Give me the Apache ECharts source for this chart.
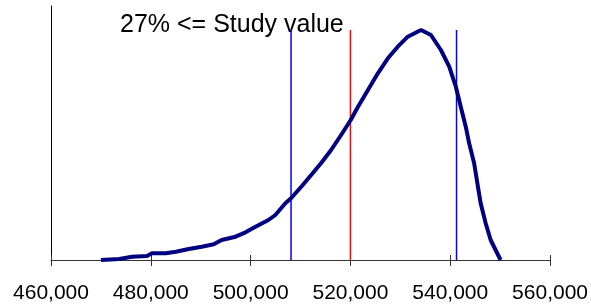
<!DOCTYPE html>
<html>
<head>
<meta charset="utf-8">
<script src="https://cdn.jsdelivr.net/npm/echarts@6/dist/echarts.min.js"></script>
<style>
  html, body { margin: 0; padding: 0; background: #fff; }
  #chart { width: 591px; height: 307px; }
</style>
</head>
<body>
<div id="chart"></div>
<script>
// simulated distribution (x = total value, y = relative frequency)
var curveX = [470000, 473660, 476250, 479240, 480240, 483030, 485020, 487620, 490210, 492600,
  494200, 496990, 498980, 500980, 503570, 504960, 506960, 508100, 510150, 512140,
  514140, 516130, 518130, 520060, 521520, 523510, 525500, 527500, 529490, 531490,
  534140, 536130, 538130, 539800, 541120, 542110, 543110, 543790, 544790, 545440,
  546100, 547100, 548100, 549090, 550090];
var curveY = [0, 1, 3.3, 4, 6.7, 6.7, 8.3, 11, 13.3, 15.7,
  20, 23.3, 27.7, 33.3, 40, 45, 56.7, 61.7, 73.3, 85,
  97, 110, 125, 140, 153.3, 170, 186.7, 201.7, 213.3, 223.3,
  230, 225, 210, 193.3, 173.3, 153.3, 133.3, 116.7, 96.7, 76.7,
  56.7, 36.7, 20, 10, 0];

// vertical marker lines
var lowerBound = 508100;
var studyValue = 520000;
var upperBound = 541260;
var markerTop = 230;

var xTicks = [460000, 480000, 500000, 520000, 540000, 560000];
var noteText = '27% <= Study value';

var chart = echarts.init(document.getElementById('chart'));

function vline(x, color) {
  return {
    type: 'line',
    data: [[x, 0], [x, markerTop]],
    symbol: 'none',
    lineStyle: { color: color, width: 1.5 },
    silent: true,
    z: 1
  };
}

var option = {
  animation: false,
  grid: { left: 51, right: 38, top: 6, bottom: 47 },
  xAxis: [{
    type: 'value',
    min: xTicks[0],
    max: xTicks[xTicks.length - 1],
    interval: 20000,
    axisLine: { lineStyle: { color: '#333', width: 1 } },
    axisTick: { length: 6, lineStyle: { color: '#333' } },
    axisLabel: {
      margin: 23,
      fontFamily: 'Liberation Sans',
      fontSize: 21,
      color: '#000',
      formatter: function (v) { return v.toLocaleString('en-US'); }
    },
    splitLine: { show: false }
  }, {
    type: 'value',
    position: 'bottom',
    min: xTicks[0],
    max: xTicks[xTicks.length - 1],
    interval: 20000,
    axisLine: { show: false },
    axisTick: { inside: true, length: 5, lineStyle: { color: '#333' } },
    axisLabel: { show: false },
    splitLine: { show: false }
  }],
  yAxis: {
    type: 'value',
    min: 0,
    max: 254,
    axisLine: { show: true, lineStyle: { color: '#000', width: 1 } },
    axisTick: { show: false },
    axisLabel: { show: false },
    splitLine: { show: false }
  },
  series: [
    vline(lowerBound, '#0000ff'),
    vline(studyValue, '#ff0000'),
    vline(upperBound, '#0000ff'),
    {
      type: 'line',
      data: curveX.map(function (x, i) { return [x, curveY[i]]; }),
      symbol: 'none',
      lineStyle: { color: '#000080', width: 4 },
      z: 3
    }
  ],
  graphic: [{
    type: 'text',
    left: 120,
    top: 13,
    style: {
      text: noteText,
      font: '25px "Liberation Sans"',
      fill: '#000'
    }
  }]
};

chart.setOption(option);
</script>
</body>
</html>
